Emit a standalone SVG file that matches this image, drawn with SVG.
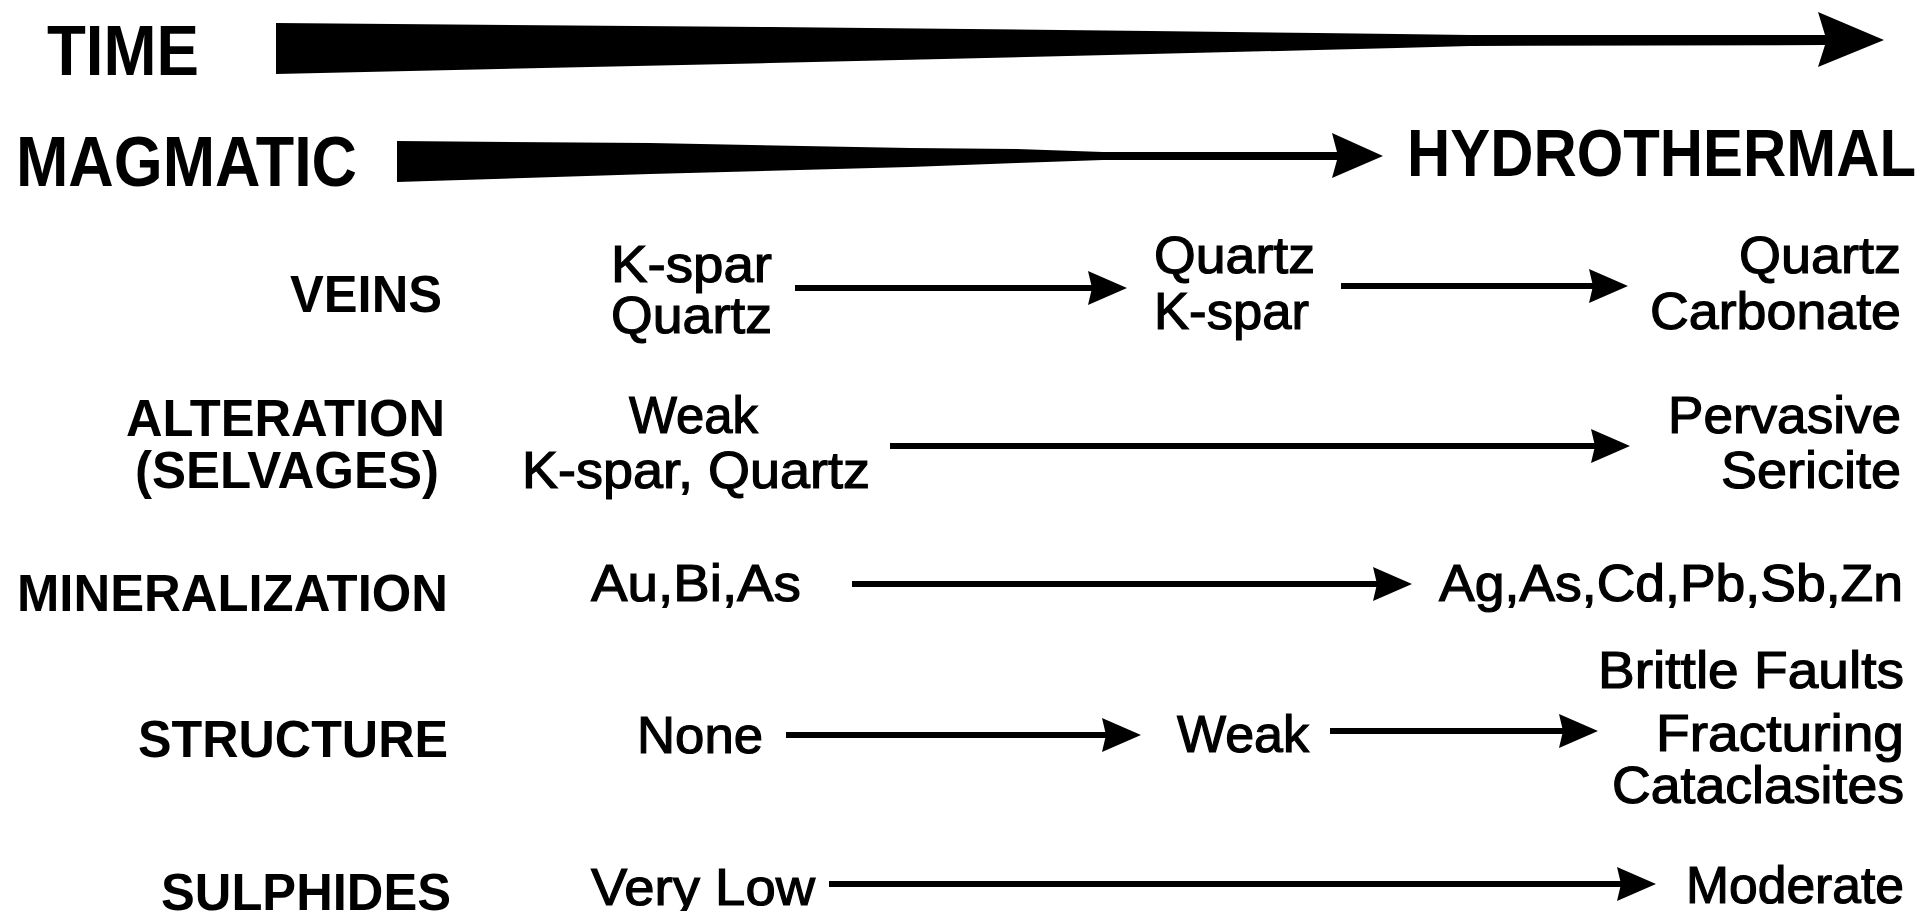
<svg xmlns="http://www.w3.org/2000/svg" width="1923" height="911" viewBox="0 0 1923 911">
<style>
text{font-family:"Liberation Sans",Arial,sans-serif;fill:#000}
.hd{font-weight:bold;font-size:70px}
.lb{font-weight:bold;font-size:51px}
.v{font-size:52px;stroke:#000;stroke-width:1.2}
.ln{stroke:#000;stroke-width:6;fill:none}
</style>
<defs>
<marker id="ah" markerUnits="userSpaceOnUse" markerWidth="40" markerHeight="36" viewBox="0 -18 40 36" refX="6" refY="0" orient="auto" overflow="visible">
<path d="M0,-17 L39,0 L0,17 L4,0 Z" fill="#000"/>
</marker>
</defs>
<rect width="1923" height="911" fill="#fff"/>
<g id="time">
<text class="hd" x="47" y="75" textLength="152" lengthAdjust="spacingAndGlyphs">TIME</text>
<path d="M276,23 L770,27 L1150,31 L1317,33 L1397,34 L1470,35 L1825,35 L1818,12 L1884,40 L1818,67 L1825,45 L1470,46 L1397,48 L1317,50 L1150,54 L770,63 L276,74 Z" fill="#000"/>
</g>
<g id="magmatic">
<text class="hd" x="16" y="186" textLength="341" lengthAdjust="spacingAndGlyphs">MAGMATIC</text>
<path d="M397,141 L650,143 L910,148 L1017,149 L1103,152 L1337,152 L1332,133 L1383,156 L1332,178 L1337,160 L1103,160 L1017,163 L910,167 L650,174 L397,182 Z" fill="#000"/>
</g>
<g id="hydrothermal">
<text class="hd" style="font-size:66px" x="1407" y="176" textLength="509" lengthAdjust="spacingAndGlyphs">HYDROTHERMAL</text>
</g>
<g id="labels">
<text class="lb" x="290" y="312" textLength="152" lengthAdjust="spacingAndGlyphs">VEINS</text>
<text class="lb" x="126" y="436" textLength="319" lengthAdjust="spacingAndGlyphs">ALTERATION</text>
<text class="lb" x="135" y="488" textLength="304" lengthAdjust="spacingAndGlyphs">(SELVAGES)</text>
<text class="lb" x="17" y="611" textLength="431" lengthAdjust="spacingAndGlyphs">MINERALIZATION</text>
<text class="lb" x="138" y="757" textLength="310" lengthAdjust="spacingAndGlyphs">STRUCTURE</text>
<text class="lb" x="161" y="910" textLength="290" lengthAdjust="spacingAndGlyphs">SULPHIDES</text>
</g>
<g id="veins-1">
<text class="v" x="611" y="282" textLength="161" lengthAdjust="spacingAndGlyphs">K-spar</text>
<text class="v" x="611" y="333" textLength="161" lengthAdjust="spacingAndGlyphs">Quartz</text>
</g>
<g id="veins-2">
<text class="v" x="1154" y="273" textLength="161" lengthAdjust="spacingAndGlyphs">Quartz</text>
<text class="v" x="1154" y="329" textLength="155" lengthAdjust="spacingAndGlyphs">K-spar</text>
</g>
<g id="veins-3">
<text class="v" x="1739" y="273" textLength="162" lengthAdjust="spacingAndGlyphs">Quartz</text>
<text class="v" x="1650" y="329" textLength="251" lengthAdjust="spacingAndGlyphs">Carbonate</text>
</g>
<g id="alteration-1">
<text class="v" x="629" y="433" textLength="129" lengthAdjust="spacingAndGlyphs">Weak</text>
<text class="v" x="522" y="488" textLength="348" lengthAdjust="spacingAndGlyphs">K-spar, Quartz</text>
</g>
<g id="alteration-2">
<text class="v" x="1668" y="433" textLength="233" lengthAdjust="spacingAndGlyphs">Pervasive</text>
<text class="v" x="1721" y="488" textLength="180" lengthAdjust="spacingAndGlyphs">Sericite</text>
</g>
<g id="mineralization-1">
<text class="v" x="591" y="601" textLength="210" lengthAdjust="spacingAndGlyphs">Au,Bi,As</text>
</g>
<g id="mineralization-2">
<text class="v" x="1439" y="601" textLength="464" lengthAdjust="spacingAndGlyphs">Ag,As,Cd,Pb,Sb,Zn</text>
</g>
<g id="structure-1">
<text class="v" x="637" y="753" textLength="126" lengthAdjust="spacingAndGlyphs">None</text>
</g>
<g id="structure-2">
<text class="v" x="1177" y="752" textLength="132" lengthAdjust="spacingAndGlyphs">Weak</text>
</g>
<g id="structure-3">
<text class="v" x="1598" y="688" textLength="306" lengthAdjust="spacingAndGlyphs">Brittle Faults</text>
<text class="v" x="1656" y="751" textLength="248" lengthAdjust="spacingAndGlyphs">Fracturing</text>
<text class="v" x="1612" y="803" textLength="292" lengthAdjust="spacingAndGlyphs">Cataclasites</text>
</g>
<g id="sulphides-1">
<text class="v" x="591" y="905" textLength="224" lengthAdjust="spacingAndGlyphs">Very Low</text>
</g>
<g id="sulphides-2">
<text class="v" x="1686" y="903" textLength="218" lengthAdjust="spacingAndGlyphs">Moderate</text>
</g>
<g id="connectors">
<line class="ln" x1="795" y1="288" x2="1094" y2="288" marker-end="url(#ah)"/>
<line class="ln" x1="1341" y1="286" x2="1595" y2="286" marker-end="url(#ah)"/>
<line class="ln" x1="890" y1="446" x2="1597" y2="446" marker-end="url(#ah)"/>
<line class="ln" x1="852" y1="584" x2="1379" y2="584" marker-end="url(#ah)"/>
<line class="ln" x1="786" y1="735" x2="1108" y2="735" marker-end="url(#ah)"/>
<line class="ln" x1="1330" y1="731" x2="1565" y2="731" marker-end="url(#ah)"/>
<line class="ln" x1="829" y1="884" x2="1623" y2="884" marker-end="url(#ah)"/>
</g>
</svg>
